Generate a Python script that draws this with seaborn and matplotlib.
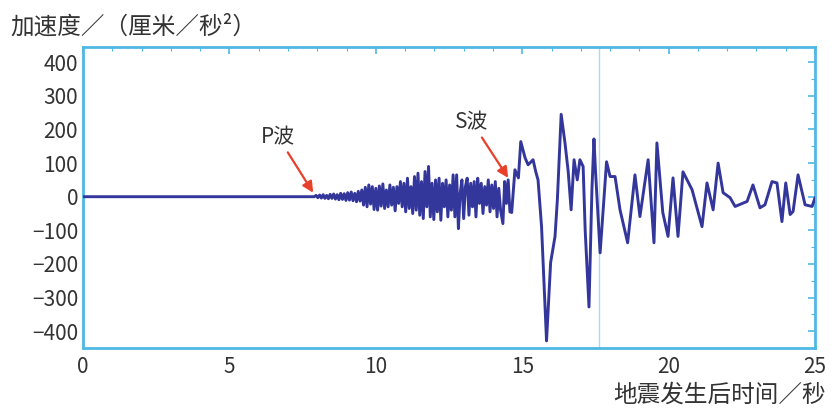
import matplotlib
matplotlib.use("Agg")
import matplotlib.pyplot as plt
from matplotlib.ticker import MultipleLocator
import seaborn as sns
import pandas as pd

# time (s) and acceleration (cm/s^2)
time_quiet = [0.0, 7.86]
acc_quiet = [0, 0]

time_p = [7.90, 7.96, 8.02, 8.08, 8.14, 8.20, 8.26, 8.32, 8.38, 8.44, 8.50, 8.56, 8.62, 8.68,
          8.74, 8.80, 8.86, 8.92, 8.98, 9.04, 9.10, 9.16, 9.22, 9.28, 9.34, 9.40, 9.46,
          9.52, 9.58, 9.64, 9.70, 9.76, 9.82, 9.88, 9.94, 10.00, 10.06, 10.12, 10.18, 10.24,
          10.30, 10.36, 10.42, 10.48, 10.54, 10.60, 10.66, 10.72, 10.78,
          10.84, 10.90, 10.96, 11.02, 11.08, 11.14, 11.20, 11.26, 11.32, 11.38, 11.44, 11.50,
          11.56, 11.62, 11.68, 11.74, 11.80, 11.86, 11.92, 11.98, 12.04, 12.10,
          12.16, 12.22, 12.28, 12.34, 12.40, 12.46, 12.52, 12.58, 12.64, 12.70, 12.76, 12.82,
          12.88, 12.94, 13.00, 13.06, 13.12,
          13.18, 13.24, 13.30, 13.36, 13.42, 13.48, 13.54, 13.60, 13.66, 13.72, 13.78, 13.84,
          13.90, 13.96, 14.02, 14.08, 14.14, 14.20, 14.26, 14.34, 14.40, 14.46, 14.52, 14.58,
          14.64, 14.75, 14.87]
acc_p = [0, 4, -3, 5, -4, 6, -5, 4, -6, 7, -5, 8, -7, 6,
         -9, 10, -8, 9, -11, 12, -10, 14, -12, 10, -15, 16, -13,
         20, -25, 28, -30, 35, -22, 30, -38, 25, -40, 32, -28, 38,
         -35, 20, -30, 35, -25, 28, -42, 30, -20,
         45, -30, 40, -45, 55, -35, 30, -50, 60, -40, 70, -55,
         45, -65, 75, -30, 90, -60, 40, -68, 50, -45,
         55, -70, 40, -30, 50, -60, 35, -40, 65, -60, 65, -95,
         10, 50, -65, 30, 55,
         -55, 40, -30, 45, -60, 55, -20, 40, -50, 30, -25, 50,
         -45, 35, -35, 45, -60, 25, -40, -80, 45, -20, 50, -45,
         -47, 80, 56]

time_s = [14.95, 15.10, 15.20, 15.37, 15.46, 15.54, 15.66, 15.83, 15.97, 16.12, 16.20, 16.33,
          16.46, 16.57, 16.67, 16.77, 16.88, 16.97, 17.08, 17.15, 17.28, 17.38, 17.45, 17.50,
          17.66, 17.88, 18.00, 18.17, 18.34, 18.60, 18.85, 19.02, 19.30, 19.50, 19.60, 19.80,
          19.98, 20.15, 20.32, 20.49, 20.80, 21.14, 21.31, 21.52, 21.69, 21.86, 22.10, 22.27,
          22.68, 22.88, 23.12, 23.29, 23.53, 23.70, 23.87, 24.00, 24.15, 24.25, 24.42, 24.66,
          24.90, 25.00]
acc_s = [164, 115, 95, 110, 75, 50, -89, -429, -196, -118, -9, 245,
         160, 75, -39, 110, 50, 110, 90, -100, -328, 20, 172, 80,
         -167, 104, 60, 60, -39, -137, 65, -59, 110, -137, 160, -47,
         -118, 56, -118, 74, 21, -89, 41, -39, 100, 12, -3, -29,
         -14, 35, -33, -24, 45, 41, -74, 41, -53, -44, 65, -24,
         -29, -3]

x_ticks = [0, 5, 10, 15, 20, 25]
y_ticks = [-400, -300, -200, -100, 0, 100, 200, 300, 400]

df = pd.DataFrame({
    "t": time_quiet + time_p + time_s,
    "a": acc_quiet + acc_p + acc_s,
})

sns.set_theme(style="white")
plt.rcParams["font.family"] = ["Noto Sans CJK SC", "DejaVu Sans"]

AXC = "#4fb8e3"
LINEC = "#33369a"
RED = "#e8402a"
TXT = "#333333"

fig = plt.figure(figsize=(8.32, 4.17), dpi=100)
ax = fig.add_axes([0.0998, 0.1655, 0.8798, 0.7215])

ax.axvline(17.62, color="#a9dcf2", lw=1.0, zorder=1)
sns.lineplot(data=df, x="t", y="a", ax=ax, color=LINEC, lw=2.1,
             sort=False, estimator=None, zorder=3)

ax.set_xlim(0, 25)
ax.set_ylim(-450, 445)
ax.set_xticks(x_ticks)
ax.set_yticks(y_ticks)
ax.yaxis.set_minor_locator(MultipleLocator(50))
ax.xaxis.set_minor_locator(MultipleLocator(1))
ax.tick_params(axis="both", which="both", direction="in", color=AXC,
               top=True, right=True, labelsize=15, labelcolor=TXT)
ax.tick_params(axis="both", which="major", length=5, width=1.2)
ax.tick_params(axis="both", which="minor", length=3, width=0.8)
ax.tick_params(axis="x", pad=6)
for s in ax.spines.values():
    s.set_color(AXC)
    s.set_linewidth(2.0)
ax.set_xlabel("")
ax.set_ylabel("")

fig.text(0.012, 0.935, "加速度／（厘米／秒²）", fontsize=17, color=TXT,
         ha="left", va="center", fontweight="medium")
fig.text(0.992, 0.052, "地震发生后时间／秒", fontsize=17, color=TXT,
         ha="right", va="center", fontweight="medium")

arrow = dict(arrowstyle="-|>", color=RED, lw=1.6, mutation_scale=16,
             shrinkA=1, shrinkB=0)
ax.annotate("P波", xy=(7.86, 12), xytext=(6.66, 178), fontsize=15, color=TXT,
            ha="center", va="center", arrowprops=arrow)
ax.annotate("S波", xy=(14.52, 56), xytext=(13.28, 222), fontsize=15, color=TXT,
            ha="center", va="center", arrowprops=arrow)

fig.savefig("out.png", dpi=100, facecolor="white")
